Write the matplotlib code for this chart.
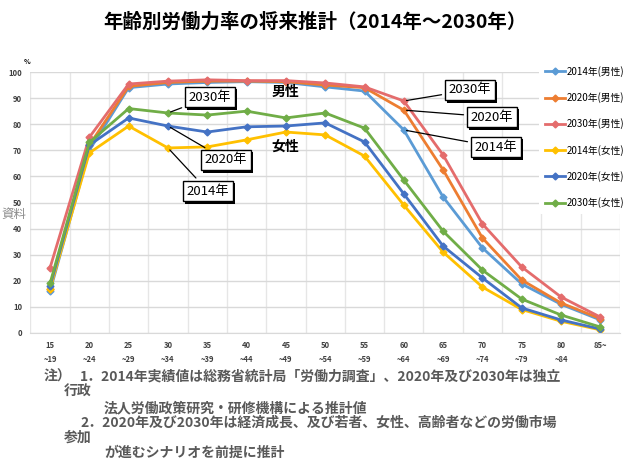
import matplotlib
matplotlib.use('Agg')
import matplotlib.pyplot as plt
import matplotlib.patheffects as pe
import numpy as np

plt.rcParams['font.family'] = ['Noto Sans CJK JP', 'DejaVu Sans']

# age groups
ages = ['15\n~19', '20\n~24', '25\n~29', '30\n~34', '35\n~39', '40\n~44', '45\n~49',
        '50\n~54', '55\n~59', '60\n~64', '65\n~69', '70\n~74', '75\n~79', '80\n~84', '85~']

# labour force participation rate (%)
m2014 = [16, 70, 94, 95.4, 96, 96.3, 96, 94.3, 92.7, 77.8, 52.1, 32.6, 18.8, 11, 5]
m2020 = [17, 72, 94.5, 96, 96.5, 96.5, 96.3, 95, 94, 85.4, 62.5, 36.4, 20.3, 11.5, 5.5]
m2030 = [25, 75, 95.4, 96.5, 97, 96.7, 96.7, 95.8, 94.3, 88.9, 68.2, 41.8, 25.3, 13.8, 6.1]
f2014 = [17, 69, 79.3, 70.9, 71.3, 74, 77, 75.9, 67.8, 49, 31, 17.6, 9, 4.5, 1.2]
f2020 = [18, 72, 82.4, 79.3, 77, 79, 79.3, 80.5, 73.2, 53.3, 33.3, 21.1, 9.6, 5, 1.5]
f2030 = [19, 73, 86, 84.3, 83.5, 85, 82.4, 84.3, 78.5, 58.6, 39, 24.1, 13, 6.9, 2.3]

series = [m2014, m2020, m2030, f2014, f2020, f2030]
labels = ['2014年(男性)', '2020年(男性)', '2030年(男性)',
          '2014年(女性)', '2020年(女性)', '2030年(女性)']
colors = ['#5B9BD5', '#ED7D31', '#E46C6C', '#FFC000', '#4472C4', '#70AD47']

notes = ['注）',
         '1．2014年実績値は総務省統計局「労働力調査」、2020年及び2030年は独立',
         '行政',
         '法人労働政策研究・研修機構による推計値',
         '2．2020年及び2030年は経済成長、及び若者、女性、高齢者などの労働市場',
         '参加',
         'が進むシナリオを前提に推計']

W, H = 629, 468
fig = plt.figure(figsize=(W / 100, H / 100), dpi=100)
ax = fig.add_axes([30.4 / W, 1 - 333 / H, (620 - 30.4) / W, (333 - 72) / H])

x = np.arange(len(ages))
lines = []
for s, lab, c in zip(series, labels, colors):
    ln, = ax.plot(x, s, color=c, lw=2, marker='D', ms=3.5, label=lab)
    lines.append(ln)

ax.set_xlim(-0.5, len(ages) - 0.5)
ax.set_ylim(0, 100)
ax.set_yticks(np.arange(0, 101, 10))
ax.set_xticks(x)
ax.set_xticklabels(ages, fontsize=5.5, color='#404040', fontweight='bold', linespacing=1.6)
ax.tick_params(axis='y', labelsize=5.5, labelcolor='#404040', length=0, pad=6)
ax.tick_params(axis='x', length=0, pad=6)
for t in ax.get_yticklabels():
    t.set_fontweight('bold')
ax.set_xticks(np.arange(-0.5, len(ages), 1), minor=True)
ax.grid(True, axis='y', color='#d9d9d9', lw=1)
ax.grid(True, axis='x', which='minor', color='#e6e6e6', lw=1)
ax.tick_params(which='minor', length=0)
for sp in ['top', 'right', 'left']:
    ax.spines[sp].set_visible(False)
ax.spines['bottom'].set_color('#d9d9d9')
ax.set_axisbelow(True)

fig.text(27 / W, 1 - 62 / H, '%', fontsize=5, fontweight='bold', ha='center', va='center')
fig.text(1 / W, 1 - 214 / H, '資料', fontsize=9, color='#8c8c8c', ha='left', va='center')

# title
fig.text(0.5, 1 - 22 / H, '年齢別労働力率の将来推計（2014年～2030年）',
         fontsize=14, fontweight='bold', ha='center', va='center')

# labels for men / women
ax.annotate('男性', xy=(285, H - 92), xycoords='figure pixels', fontsize=10,
            fontweight='bold', ha='center', va='center')
ax.annotate('女性', xy=(285, H - 147), xycoords='figure pixels', fontsize=10,
            fontweight='bold', ha='center', va='center')

box = dict(boxstyle='square,pad=0.3', fc='white', ec='black', lw=1.0)
arrow = dict(arrowstyle='-', color='black', lw=0.9)
callouts = [
    ('2030年', 3, f2030[3], 210, 97),
    ('2020年', 3, f2020[3], 226, 160),
    ('2014年', 3, f2014[3], 208, 191),
    ('2030年', 9, m2030[9], 470, 90),
    ('2020年', 9, m2020[9], 492, 117),
    ('2014年', 9, m2014[9], 496, 147),
]
for txt, xi, yv, px, py in callouts:
    a = ax.annotate(txt, xy=(xi, yv), xytext=(px, H - py), textcoords='figure pixels',
                    fontsize=9.5, ha='center', va='center', bbox=box, arrowprops=arrow,
                    annotation_clip=False)
    a.get_bbox_patch().set_path_effects(
        [pe.withSimplePatchShadow(offset=(1.5, -1.5), shadow_rgbFace='black', alpha=1)])

leg = ax.legend(handles=lines, loc='upper left', bbox_to_anchor=(539 / W, 1 - 60 / H),
                bbox_transform=fig.transFigure, fontsize=7, frameon=True,
                labelspacing=1.58, handlelength=2.06, handletextpad=0.2,
                borderaxespad=0, borderpad=0.6)
leg.get_frame().set_facecolor('white')
leg.get_frame().set_edgecolor('none')
leg.get_frame().set_alpha(1)

# notes
note_pos = [(44, 377), (80, 377), (64, 392), (104, 408), (80, 423), (64, 438), (104, 453)]
for t, (px, py) in zip(notes, note_pos):
    fig.text(px / W, 1 - py / H, t, fontsize=10, color='#595959', fontweight='bold',
             ha='left', va='center')

fig.savefig('out.png', dpi=100)
